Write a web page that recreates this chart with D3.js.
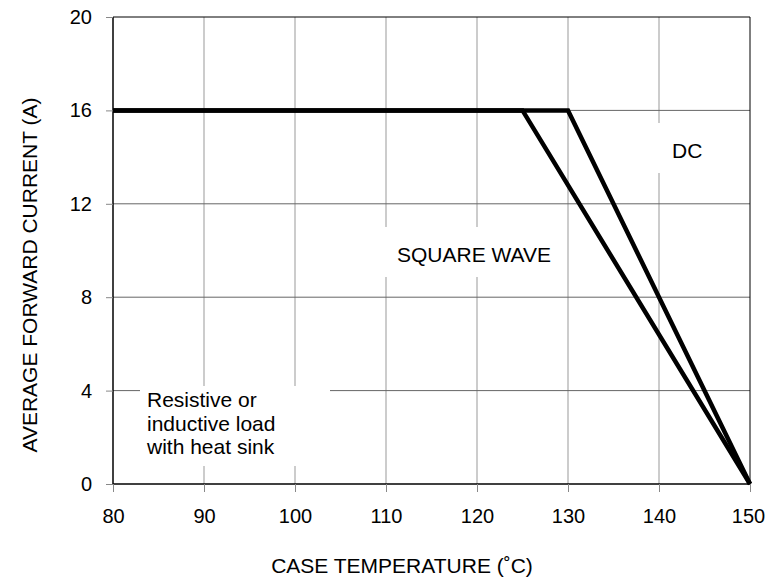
<!DOCTYPE html>
<html>
<head>
<meta charset="utf-8">
<script src="https://cdn.jsdelivr.net/npm/d3@7"></script>
<style>
  body { margin: 0; background: #fff; }
  text { font-family: Arial, "Liberation Sans", sans-serif; fill: #000; }
</style>
</head>
<body>
<svg width="765" height="578"></svg>
<script>
var WIDTH = 765;
var HEIGHT = 578;

var xTicks = [80, 90, 100, 110, 120, 130, 140, 150];
var yTicks = [0, 4, 8, 12, 16, 20];

var squareTemp = [80, 125, 150];
var squareCurrent = [16, 16, 0];
var dcTemp = [80, 130, 150];
var dcCurrent = [16, 16, 0];

var margin = { left: 113, right: 15, top: 17, bottom: 94 };

var svg = d3.select('svg');

var xScale = d3.scaleLinear()
  .domain([80, 150])
  .range([margin.left, WIDTH - margin.right]);
var yScale = d3.scaleLinear()
  .domain([0, 20])
  .range([HEIGHT - margin.bottom, margin.top]);

// grid
svg.append('g').selectAll('line')
  .data(xTicks.slice(1, -1))
  .enter().append('line')
  .attr('x1', function(d) { return xScale(d); })
  .attr('x2', function(d) { return xScale(d); })
  .attr('y1', yScale(20))
  .attr('y2', yScale(0))
  .attr('stroke', '#999')
  .attr('stroke-width', 1);

svg.append('g').selectAll('line')
  .data(yTicks.slice(1, -1))
  .enter().append('line')
  .attr('x1', xScale(80))
  .attr('x2', xScale(150))
  .attr('y1', function(d) { return yScale(d); })
  .attr('y2', function(d) { return yScale(d); })
  .attr('stroke', '#666')
  .attr('stroke-width', 1);

// white label boxes covering grid
function box(x, y, w, h) {
  svg.append('rect').attr('x', x).attr('y', y).attr('width', w).attr('height', h).attr('fill', '#fff');
}
box(140, 386, 190, 80);
box(385, 227, 182, 50);
box(645, 123, 60, 50);

// frame
svg.append('line')
  .attr('x1', xScale(80)).attr('x2', xScale(150))
  .attr('y1', yScale(20)).attr('y2', yScale(20))
  .attr('stroke', '#000');
svg.append('line')
  .attr('x1', xScale(150)).attr('x2', xScale(150))
  .attr('y1', yScale(20)).attr('y2', yScale(0))
  .attr('stroke', '#000');

// axes
var xAxis = d3.axisBottom(xScale).tickValues(xTicks).tickSize(8).tickPadding(17);
var yAxis = d3.axisLeft(yScale).tickValues(yTicks).tickSize(7).tickPadding(14);

var gx = svg.append('g')
  .attr('transform', 'translate(0,' + yScale(0) + ')')
  .call(xAxis);
var gy = svg.append('g')
  .attr('transform', 'translate(' + xScale(80) + ',0)')
  .call(yAxis);

[gx, gy].forEach(function(g) {
  g.select('.domain').attr('stroke', '#000').attr('stroke-width', 1.5);
  g.selectAll('.tick line').attr('stroke', '#888');
  g.selectAll('.tick text')
    .style('font-family', 'Arial, "Liberation Sans", sans-serif')
    .style('font-size', '20px')
    .attr('fill', '#000');
});
gx.selectAll('.tick text').filter(function(d) { return d === 150; }).attr('dx', -2);
gx.select('.domain').attr('d', 'M' + xScale(80) + ',0H' + xScale(150));
gy.select('.domain').attr('d', 'M0,' + yScale(0) + 'V' + yScale(20));

// curves
var line = d3.line()
  .x(function(d) { return xScale(d[0]); })
  .y(function(d) { return yScale(d[1]); });

svg.append('path')
  .datum(d3.zip(dcTemp, dcCurrent))
  .attr('d', line)
  .attr('fill', 'none')
  .attr('stroke', '#000')
  .attr('stroke-width', 4.5);

svg.append('path')
  .datum(d3.zip(squareTemp, squareCurrent))
  .attr('d', line)
  .attr('fill', 'none')
  .attr('stroke', '#000')
  .attr('stroke-width', 4.5);

// annotations
var note = svg.append('text')
  .style('font-size', '21px');
['Resistive or', 'inductive load', 'with heat sink'].forEach(function(t, i) {
  note.append('tspan').attr('x', 147).attr('y', 407 + i * 23.5).text(t);
});

svg.append('text')
  .attr('x', 397).attr('y', 262)
  .style('font-size', '21px')
  .text('SQUARE WAVE');

svg.append('text')
  .attr('x', 672).attr('y', 158)
  .style('font-size', '21px')
  .text('DC');

// axis titles
svg.append('text')
  .attr('x', 402)
  .attr('y', 573)
  .attr('text-anchor', 'middle')
  .style('font-size', '21px')
  .text('CASE TEMPERATURE (˚C)');

svg.append('text')
  .attr('transform', 'translate(37,275) rotate(-90)')
  .attr('text-anchor', 'middle')
  .style('font-size', '21px')
  .text('AVERAGE FORWARD CURRENT (A)');
</script>
</body>
</html>
